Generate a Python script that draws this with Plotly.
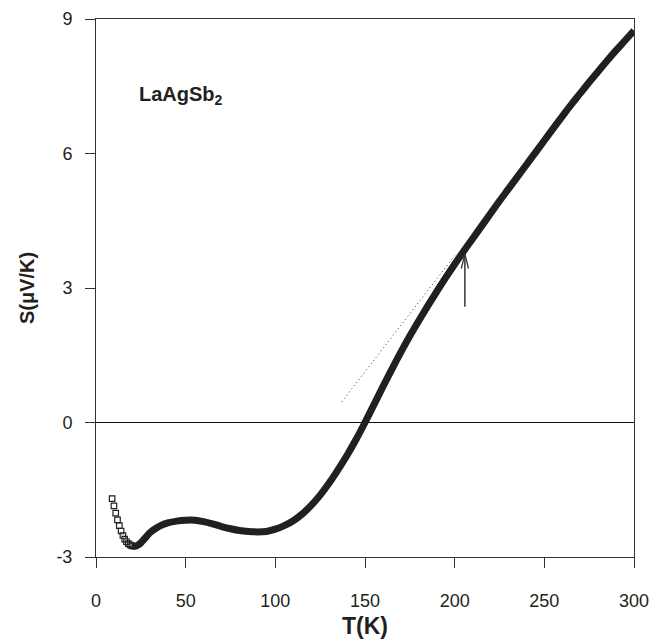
import plotly.graph_objects as go

T_K = [9, 10, 11, 12, 13, 14, 15, 16, 17, 18, 19, 20, 22, 24, 26, 28, 30, 33, 36, 40,
       45, 50, 55, 60, 65, 70, 75, 80, 85, 90, 95, 100, 105, 110, 115, 120, 125, 130,
       135, 140, 145, 150, 155, 160, 165, 170, 175, 180, 185, 190, 195, 200, 205, 210,
       215, 220, 225, 230, 235, 240, 245, 250, 255, 260, 265, 270, 275, 280, 285, 290,
       295, 300]
S_uVK = [-1.70, -1.86, -2.02, -2.17, -2.30, -2.42, -2.52, -2.60, -2.66, -2.70, -2.73, -2.75,
         -2.76, -2.72, -2.64, -2.55, -2.46, -2.37, -2.30, -2.24,
         -2.20, -2.18, -2.18, -2.21, -2.26, -2.32, -2.37, -2.41, -2.43, -2.44, -2.43, -2.38,
         -2.30, -2.19, -2.04, -1.85, -1.62, -1.35,
         -1.05, -0.73, -0.38, 0.00, 0.40, 0.80, 1.19, 1.57, 1.93, 2.27, 2.60, 2.92, 3.23,
         3.53, 3.82, 4.10,
         4.38, 4.66, 4.94, 5.21, 5.48, 5.75, 6.02, 6.29, 6.56, 6.83, 7.09, 7.34, 7.59,
         7.83, 8.07, 8.30, 8.52, 8.74]

# High-temperature linear extrapolation (dotted)
fit_T = [137, 200]
fit_S = [0.46, 3.72]

# Arrow marking the deviation temperature
arrow_T = 205.7
arrow_S_tail = 2.58
arrow_S_tip = 3.76

x_ticks = [0, 50, 100, 150, 200, 250, 300]
y_ticks = [-3, 0, 3, 6, 9]

INK = "#231f20"
FONT = "Liberation Sans, Arial"
split = T_K.index(20)

fig = go.Figure()

# sparse low-T open squares
fig.add_trace(go.Scatter(
    x=T_K[:split + 1], y=S_uVK[:split + 1], mode="markers",
    marker=dict(symbol="square-open", size=5.5, color=INK, line=dict(width=1.2)),
    showlegend=False))

# dense data band
fig.add_trace(go.Scatter(
    x=T_K[split:], y=S_uVK[split:], mode="lines",
    line=dict(color=INK, width=7, shape="spline", smoothing=1.0),
    showlegend=False))

# dotted extrapolation
fig.add_trace(go.Scatter(
    x=fit_T, y=fit_S, mode="lines",
    line=dict(color="#333333", width=1, dash="1px,3px"),
    showlegend=False))

# arrow shaft and open head
head_w = 2.0
head_h = 0.33
fig.add_trace(go.Scatter(
    x=[arrow_T, arrow_T], y=[arrow_S_tail, arrow_S_tip], mode="lines",
    line=dict(color="#333333", width=1.5), showlegend=False))
fig.add_trace(go.Scatter(
    x=[arrow_T - head_w, arrow_T, arrow_T + head_w],
    y=[arrow_S_tip - head_h, arrow_S_tip, arrow_S_tip - head_h], mode="lines",
    line=dict(color="#333333", width=1.3), showlegend=False))

fig.add_annotation(
    x=23, y=7.3, xref="x", yref="y", xanchor="left", yanchor="middle",
    text="<b>LaAgSb<sub>2</sub></b>", showarrow=False,
    font=dict(family=FONT, size=20, color=INK))

axis_common = dict(
    showline=True, linecolor="#333333", linewidth=1, mirror=True,
    ticks="outside", ticklen=10, tickcolor="#333333", tickwidth=1,
    showgrid=False, automargin=False,
    tickfont=dict(family=FONT, size=18, color=INK),
)

fig.update_xaxes(
    range=[0, 300], tickvals=x_ticks, ticktext=[str(v) for v in x_ticks],
    zeroline=False, ticklabelstandoff=17,
    title=dict(text="<b>T(K)</b>", standoff=8,
               font=dict(family=FONT, size=23, color=INK)),
    **axis_common)
fig.update_yaxes(
    range=[-3, 9], tickvals=y_ticks, ticktext=[str(v) for v in y_ticks],
    zeroline=True, zerolinecolor="#111111", zerolinewidth=1, ticklabelstandoff=9,
    title=dict(text="<b>S(μV/K)</b>", standoff=16,
               font=dict(family=FONT, size=20, color=INK)),
    **axis_common)

fig.update_layout(
    width=653, height=643,
    margin=dict(l=96, r=19, t=19, b=86, autoexpand=False),
    paper_bgcolor="white", plot_bgcolor="white",
    showlegend=False,
)

fig.write_html("out.html")
